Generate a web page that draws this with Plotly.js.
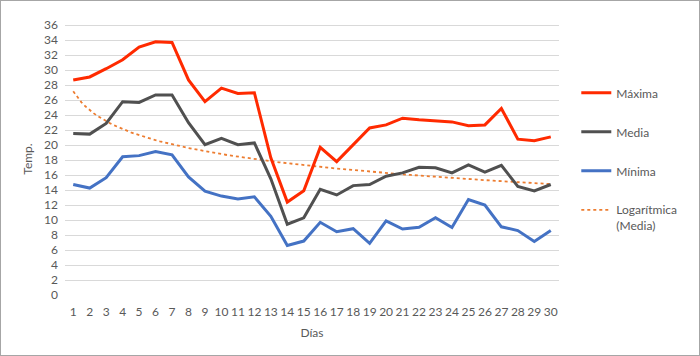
<!DOCTYPE html>
<html>
<head>
<meta charset="utf-8">
<script src="https://cdn.plot.ly/plotly-3.0.1.min.js"></script>
<style>
  html, body { margin: 0; padding: 0; background: #fff; }
  #chart { width: 698px; height: 354px; border: 1px solid #a6a6a6; }
</style>
</head>
<body>
<div id="chart"></div>
<script>
const dias = [1,2,3,4,5,6,7,8,9,10,11,12,13,14,15,16,17,18,19,20,21,22,23,24,25,26,27,28,29,30];
const maxima = [28.7,29.1,30.2,31.4,33.1,33.8,33.7,28.7,25.8,27.6,26.9,27.0,18.3,12.4,13.9,19.7,17.8,20.0,22.3,22.7,23.6,23.4,23.2,23.1,22.6,22.7,24.9,20.8,20.6,21.1];
const media = [21.55,21.47,22.9,25.8,25.7,26.7,26.7,23.0,20.05,20.9,20.05,20.3,15.5,9.45,10.3,14.1,13.35,14.6,14.75,15.85,16.3,17.05,16.97,16.3,17.35,16.4,17.3,14.5,13.9,14.75];
const minima = [14.75,14.27,15.65,18.45,18.6,19.15,18.7,15.75,13.85,13.2,12.8,13.1,10.5,6.6,7.2,9.7,8.45,8.85,6.9,9.9,8.8,9.05,10.3,9.0,12.75,12.0,9.1,8.6,7.15,8.6];
const yTicks = [0,2,4,6,8,10,12,14,16,18,20,22,24,26,28,30,32,34,36];

// Logarithmic trendline of "Media" (least squares fit y = a*ln(x) + b, as Excel does)
const lx = dias.map(d => Math.log(d));
const n = dias.length;
const mx = lx.reduce((s, v) => s + v, 0) / n;
const my = media.reduce((s, v) => s + v, 0) / n;
let sxy = 0, sxx = 0;
for (let i = 0; i < n; i++) { sxy += (lx[i] - mx) * (media[i] - my); sxx += (lx[i] - mx) * (lx[i] - mx); }
const a = sxy / sxx, b = my - a * mx;
const trendX = [], trendY = [];
for (let x = 1; x <= 30; x += 0.25) { trendX.push(x); trendY.push(a * Math.log(x) + b); }

const font = "Lato, 'Open Sans', sans-serif";
const traces = [
  { x: trendX, y: trendY, mode: 'lines', name: 'Logarítmica<br>(Media)', legendgroup: 'd', legendrank: 4,
    line: { color: '#ED7D31', width: 1.8, dash: 'dot' } },
  { x: dias, y: maxima, mode: 'lines', name: 'Máxima', legendgroup: 'a', legendrank: 1,
    line: { color: '#FF2A00', width: 3 } },
  { x: dias, y: media, mode: 'lines', name: 'Media', legendgroup: 'b', legendrank: 2,
    line: { color: '#505050', width: 3 } },
  { x: dias, y: minima, mode: 'lines', name: 'Mínima', legendgroup: 'c', legendrank: 3,
    line: { color: '#4472C4', width: 3 } }
];

const layout = {
  width: 698, height: 354,
  margin: { l: 64, r: 140, t: 22, b: 60 },
  paper_bgcolor: '#ffffff', plot_bgcolor: '#ffffff',
  font: { family: font, size: 12, color: '#595959' },
  showlegend: true,
  legend: { x: 1.035, y: 0.796, xanchor: 'left', yanchor: 'top', tracegroupgap: 20, valign: 'top',
            font: { family: font, size: 12, color: '#595959' }, traceorder: 'grouped' },
  xaxis: {
    range: [0.5, 30.5], tickmode: 'array', tickvals: dias, ticktext: dias.map(String),
    showgrid: false, zeroline: false, showline: false, ticks: '', ticklabelstandoff: 8,
    tickfont: { family: font, size: 12, color: '#595959' },
    title: { text: 'Días', font: { family: font, size: 12, color: '#595959' }, standoff: 10 }
  },
  yaxis: {
    range: [0, 36.3], tickmode: 'array', tickvals: yTicks,
    showgrid: true, gridcolor: '#d9d9d9', gridwidth: 1, zeroline: false, showline: false, ticks: '',
    ticklabelstandoff: 6,
    tickfont: { family: font, size: 12, color: '#595959' },
    title: { text: 'Temp.', font: { family: font, size: 12, color: '#595959' }, standoff: 8 }
  }
};

Plotly.newPlot('chart', traces, layout, { displayModeBar: false, staticPlot: true });
</script>
</body>
</html>
